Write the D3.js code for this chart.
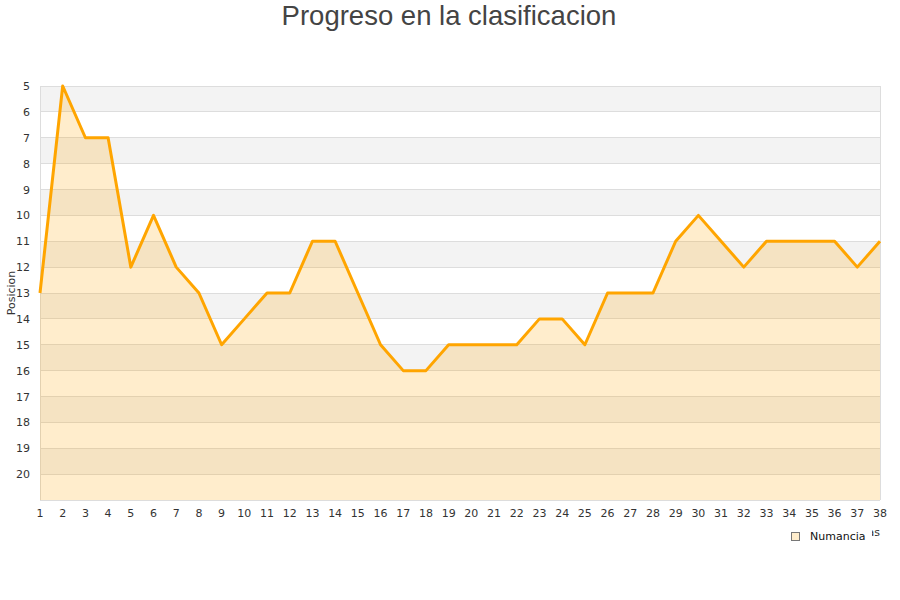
<!DOCTYPE html>
<html><head><meta charset="utf-8">
<script src="https://cdn.jsdelivr.net/npm/d3@7"></script>
<style>body{margin:0;background:#fff}svg{display:block}</style>
</head><body><svg id="c" width="900" height="600"></svg>
<script>
const jornadas = d3.range(1, 39);
const posiciones = [13,5,7,7,12,10,12,13,15,14,13,13,11,11,13,15,16,16,15,15,15,15,14,14,15,13,13,13,11,10,11,12,11,11,11,11,12,11];
const yTicks = d3.range(5, 21);
const titleText = "Progreso en la clasificacion";
const seriesName = "Numancia";

const svg = d3.select("#c");
const m = {l:40, r:880, t:86, b:500};
const x = d3.scaleLinear().domain([1,38]).range([m.l, m.r]);
const y = d3.scaleLinear().domain([5,21]).range([m.t, m.b]);

// bands
const bands = d3.range(5, 21);
svg.selectAll("rect.band").data(bands).enter().append("rect")
  .attr("x", m.l).attr("width", m.r - m.l)
  .attr("y", d => y(d)).attr("height", d => y(d+1) - y(d))
  .attr("fill", d => d % 2 === 1 ? "#f3f3f3" : "#ffffff");
// grid
svg.selectAll("line.g").data(d3.range(5, 22)).enter().append("line")
  .attr("x1", m.l).attr("x2", m.r).attr("y1", d => y(d)).attr("y2", d => y(d))
  .attr("stroke", "#dddddd").attr("stroke-width", 1).attr("shape-rendering","crispEdges");
svg.append("line").attr("x1", m.l).attr("x2", m.l).attr("y1", m.t).attr("y2", m.b)
  .attr("stroke", "#dddddd").attr("shape-rendering","crispEdges");
svg.append("line").attr("x1", m.r).attr("x2", m.r).attr("y1", m.t).attr("y2", m.b)
  .attr("stroke", "#dddddd").attr("shape-rendering","crispEdges");

const data = jornadas.map((j,i) => ({j, p: posiciones[i]}));
svg.append("path").datum(data)
  .attr("d", d3.area().x(d => x(d.j)).y0(y(21)).y1(d => y(d.p)))
  .attr("fill", "rgba(255,165,0,0.2)");
svg.append("path").datum(data)
  .attr("d", d3.line().x(d => x(d.j)).y(d => y(d.p)))
  .attr("fill", "none").attr("stroke", "#ffa500").attr("stroke-width", 3).attr("stroke-linejoin","round");

// y ticks
svg.selectAll("text.yt").data(yTicks).enter().append("text")
  .attr("x", 30).attr("y", d => y(d) + 4).attr("text-anchor", "end")
  .attr("font-family", "DejaVu Sans").attr("font-size", 11).attr("fill", "#333")
  .text(d => d);
// x ticks
svg.selectAll("text.xt").data(jornadas).enter().append("text")
  .attr("x", d => x(d)).attr("y", 517).attr("text-anchor", "middle")
  .attr("font-family", "DejaVu Sans").attr("font-size", 11).attr("fill", "#333")
  .text(d => d);

// axis titles
svg.append("text").attr("transform", "translate(15,293) rotate(-90)")
  .attr("text-anchor", "middle").attr("font-family", "DejaVu Sans").attr("font-size", 11).attr("fill", "#333")
  .text("Posicion");
svg.append("text").attr("x", 880).attr("y", 536).attr("text-anchor", "end")
  .attr("font-family", "DejaVu Sans").attr("font-size", 11).attr("fill", "#333")
  .text("Jornadas");

// title
svg.append("text").attr("x", 449).attr("y", 25).attr("text-anchor", "middle")
  .attr("font-family", "Liberation Sans, Arial").attr("font-size", 27.5).attr("fill", "#444")
  .text(titleText);

// legend
const lg = svg.append("g");
lg.append("rect").attr("x", 786).attr("y", 528).attr("width", 86).attr("height", 20).attr("fill", "#fff");
lg.append("rect").attr("x", 791.5).attr("y", 532.5).attr("width", 8).attr("height", 8)
  .attr("fill", "#ffedcc").attr("stroke", "#777").attr("stroke-width", 1);
lg.append("text").attr("x", 810).attr("y", 540).attr("font-family", "DejaVu Sans").attr("font-size", 11).attr("fill", "#111")
  .text(seriesName);
</script></body></html>
